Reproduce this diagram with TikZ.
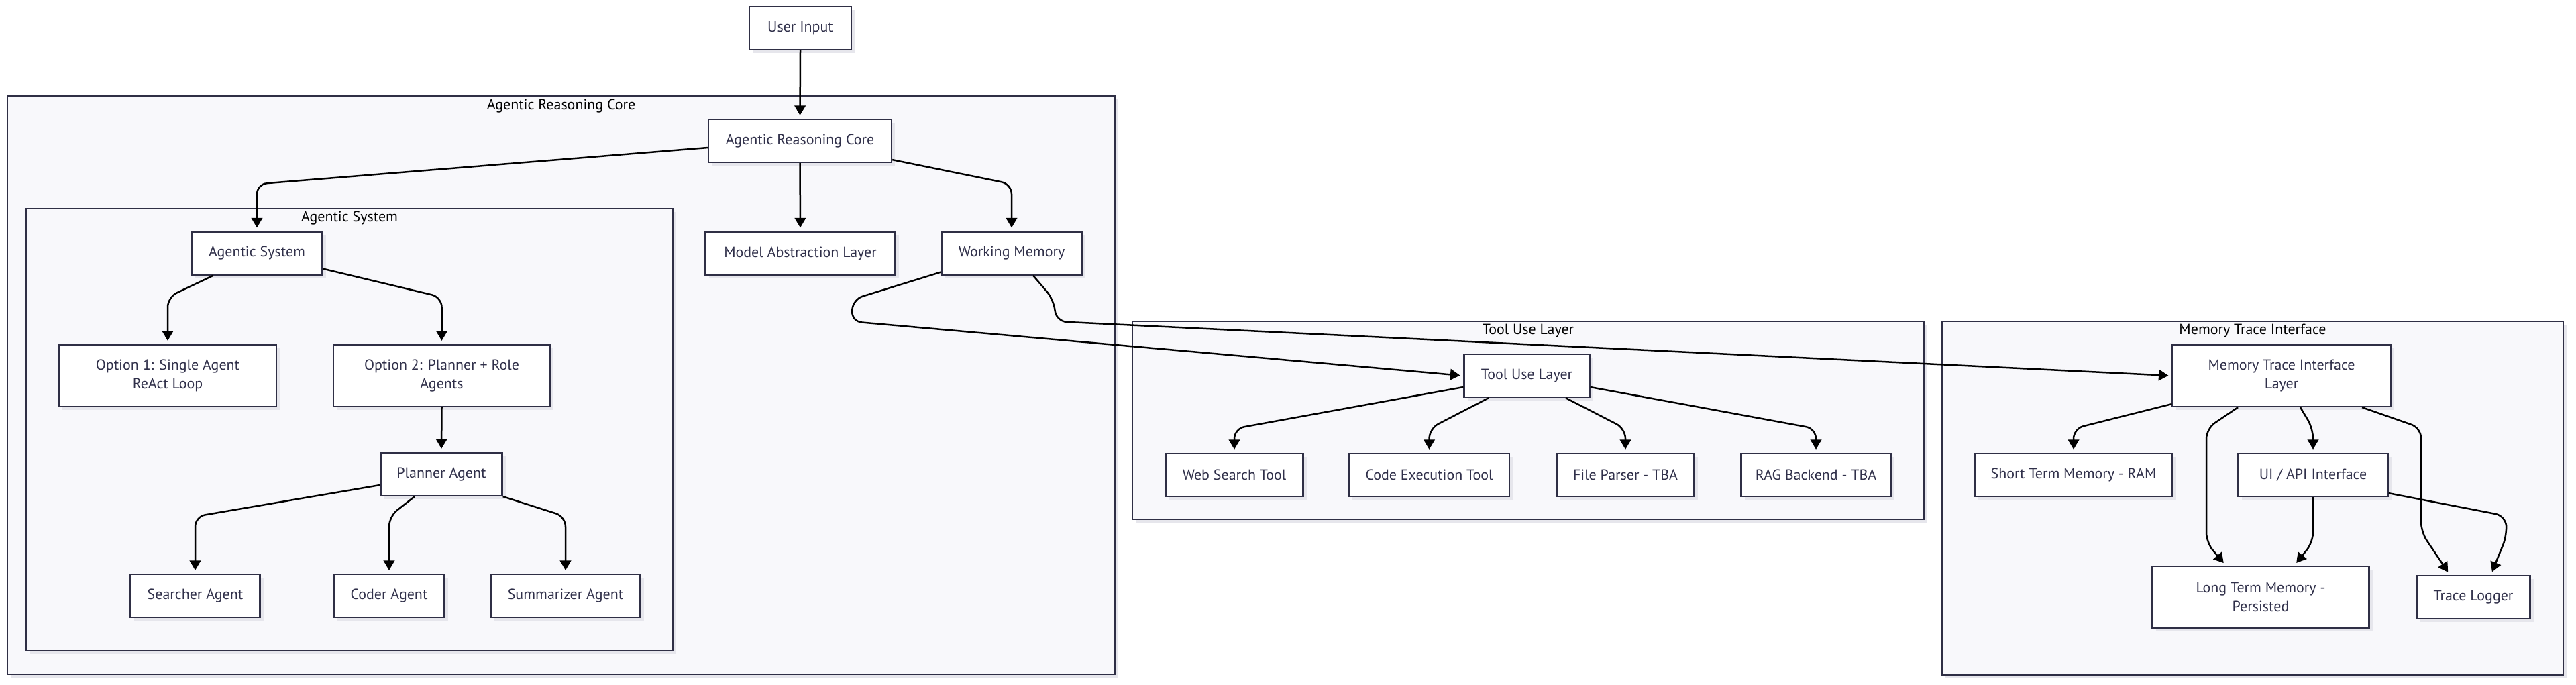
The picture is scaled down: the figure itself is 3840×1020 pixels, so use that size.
\documentclass[tikz,border=0pt]{standalone}
\usepackage{fontspec}
\setmainfont{PT Sans}
\usetikzlibrary{arrows.meta,shadows}
\definecolor{boxline}{HTML}{2F2F45}
\definecolor{clusterbg}{HTML}{F8F8FB}
\definecolor{nodetext}{HTML}{30304A}
\definecolor{shade}{HTML}{E6E6EC}

\begin{document}
\begin{tikzpicture}[
   x=0.2mm,y=-0.2mm,
   font=\fontsize{12.5}{16}\selectfont,
   cluster/.style={draw=boxline,line width=0.45mm,fill=clusterbg,inner sep=0pt,
      drop shadow={shadow xshift=1mm,shadow yshift=-1mm,fill=shade,opacity=1}},
   clabel/.style={text=black,inner sep=0pt},
   state/.style={draw=boxline,line width=0.45mm,fill=white,text=nodetext,align=center,
      inner sep=0pt,minimum height=12.8mm,
      drop shadow={shadow xshift=1mm,shadow yshift=-1mm,fill=shade,opacity=1}},
   tall/.style={minimum height=18.4mm},
   to/.style={-{Triangle[length=2.9mm,width=3.3mm]},line width=0.5mm,
      rounded corners=3mm,shorten >=1mm}]
\path[use as bounding box,fill=white] (0,0) rectangle (3840,1020);

\node[cluster,minimum width=330.2mm,minimum height=172.4mm] (core) at (836.5,574) {};
\node[cluster,minimum width=192.8mm,minimum height=131.8mm] (asys) at (521,640.5) {};
\node[cluster,minimum width=236mm,minimum height=59mm] (tool) at (2278,626.5) {};
\node[cluster,minimum width=185.2mm,minimum height=105.4mm] (mtic) at (3358,742.5) {};
\node[clabel] (corelbl) at ([yshift=-3.2mm]core.north) {Agentic Reasoning Core};
\node[clabel] (asyslbl) at ([yshift=-3mm]asys.north) {Agentic System};
\node[clabel] (toollbl) at ([yshift=-3mm]tool.north) {Tool Use Layer};
\node[clabel] (mticlbl) at ([yshift=-3mm]mtic.north) {Memory Trace Interface};

\node[state,minimum width=30.4mm] (uin) at (1193,42) {User Input};
\node[state,minimum width=54.6mm] (arc) at (1192.5,210) {Agentic Reasoning Core};
\node[state,minimum width=39mm] (asn) at (383,377.5) {Agentic System};
\node[state,minimum width=56.6mm] (mal) at (1193,377.5) {Model Abstraction Layer};
\node[state,minimum width=41.8mm] (wm) at (1508,377.5) {Working Memory};
\node[state,tall,minimum width=64.8mm] (opt1) at (250,560) {Option 1: Single Agent\\ReAct Loop};
\node[state,tall,minimum width=64.6mm] (opt2) at (658.5,560) {Option 2: Planner + Role\\Agents};
\node[state,minimum width=36.2mm] (plan) at (658,707) {Planner Agent};
\node[state,minimum width=38.6mm] (srch) at (291,888) {Searcher Agent};
\node[state,minimum width=33mm] (cod) at (580,888) {Coder Agent};
\node[state,minimum width=44.6mm] (summ) at (843,888) {Summarizer Agent};
\node[state,minimum width=37.4mm] (tul) at (2276,560) {Tool Use Layer};
\node[state,minimum width=41mm] (web) at (1840,708) {Web Search Tool};
\node[state,minimum width=47.8mm] (code) at (2130.5,708) {Code Execution Tool};
\node[state,minimum width=41mm] (fpar) at (2423,708) {File Parser - TBA};
\node[state,minimum width=44.6mm] (rag) at (2707,708) {RAG Backend - TBA};
\node[state,tall,minimum width=65mm] (mtil) at (3401,560) {Memory Trace Interface\\Layer};
\node[state,minimum width=59mm] (stm) at (3091,708) {Short Term Memory - RAM};
\node[state,minimum width=44.6mm] (ui) at (3448,708) {UI / API Interface};
\node[state,tall,minimum width=64.6mm] (ltm) at (3370,890) {Long Term Memory -\\Persisted};
\node[state,minimum width=33.8mm] (tlog) at (3687,890) {Trace Logger};

\draw[to] (uin.south) -- (arc.north);
\draw[to] ([yshift=-2mm]arc.west) -- ([yshift=14mm]asn.north) -- (asn.north);
\draw[to] (arc.south) -- (mal.north);
\draw[to] ([yshift=1mm]arc.south east) -- ([yshift=14mm]wm.north) -- (wm.north);
\draw[to] ([yshift=1mm]wm.south west) -- ([xshift=-26.2mm,yshift=-7.1mm]wm.south west)
   -- ([xshift=-26.6mm,yshift=-13.7mm]wm.south west) -- (tul.west);
\draw[to] ([xshift=6.4mm]wm.south) -- ([xshift=12.4mm,yshift=-7mm]wm.south)
   -- ([xshift=13.4mm,yshift=-13.7mm]wm.south) -- (mtil.west);
\draw[to] ([xshift=-13mm]asn.south) -- ([yshift=14mm]opt1.north) -- (opt1.north);
\draw[to] ([yshift=2mm]asn.south east) -- ([yshift=14mm]opt2.north) -- (opt2.north);
\draw[to] (opt2.south) -- (plan.north);
\draw[to] ([yshift=-3.2mm]plan.west) -- ([yshift=17mm]srch.north) -- (srch.north);
\draw[to] ([xshift=-8mm]plan.south) -- ([yshift=17mm]cod.north) -- (cod.north);
\draw[to] (plan.south east) -- ([yshift=17mm]summ.north) -- (summ.north);
\draw[to] ([yshift=-3.4mm]tul.west) -- ([yshift=7.2mm]web.north) -- (web.north);
\draw[to] ([xshift=-11.4mm]tul.south) -- ([yshift=7.2mm]code.north) -- (code.north);
\draw[to] ([xshift=11.6mm]tul.south) -- ([yshift=7.2mm]fpar.north) -- (fpar.north);
\draw[to] ([yshift=-3.4mm]tul.east) -- ([yshift=7.2mm]rag.north) -- (rag.north);
\draw[to] ([yshift=1mm]mtil.south west) -- ([yshift=7.2mm]stm.north) -- (stm.north);
\draw[to] ([xshift=-13mm]mtil.south) -- ([xshift=-16.2mm,yshift=40.8mm]ltm.north)
   -- ([xshift=-16.2mm,yshift=6.8mm]ltm.north) -- ([xshift=-10.4mm]ltm.north);
\draw[to] ([xshift=5.6mm]mtil.south) -- ([yshift=7.2mm]ui.north) -- (ui.north);
\draw[to] ([xshift=24mm]mtil.south) -- ([xshift=-15.6mm,yshift=43.8mm]tlog.north)
   -- ([xshift=-15.6mm,yshift=12.8mm]tlog.north) -- ([xshift=-7mm]tlog.north);
\draw[to] (ui.south) -- ([yshift=-13.4mm]ui.south) -- ([xshift=10mm]ltm.north);
\draw[to] ([yshift=1.2mm]ui.south east) -- ([xshift=9.6mm,yshift=17.6mm]tlog.north)
   -- ([xshift=10mm,yshift=11.8mm]tlog.north) -- ([xshift=5.2mm]tlog.north);
\end{tikzpicture}
\end{document}
